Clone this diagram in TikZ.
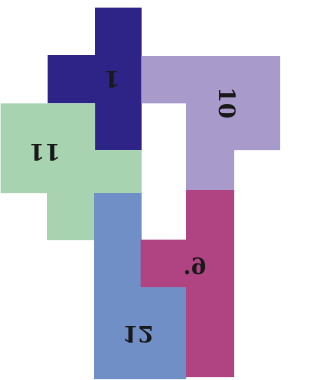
\documentclass[tikz,border=0pt]{standalone}
\usepackage{graphicx}
\usepackage{fontspec}
\newfontfamily\lblfont{DejaVu Serif}
\definecolor{cdark}{RGB}{46,36,135}
\definecolor{cpurple}{RGB}{168,155,203}
\definecolor{cgreen}{RGB}{168,211,176}
\definecolor{cblue}{RGB}{112,143,199}
\definecolor{cmagenta}{RGB}{176,68,130}
\tikzset{
  piece/.style={fill=#1, draw=none},
  lbl/.style={inner sep=0pt, text=black!90, font=\lblfont\fontsize{22.5}{27}\selectfont\bfseries}
}
\begin{document}
\begin{tikzpicture}[x=1pt, y=-1pt]
\useasboundingbox (0,0) rectangle (326,380);
% piece 1 (dark blue)
\fill[piece=cdark] (95,7.5) -- (141.7,7.5) -- (141.7,150) -- (95,150) -- (95,103.3) -- (47.5,103.3) -- (47.5,55) -- (95,55) -- cycle;
% piece 10 (purple)
\fill[piece=cpurple] (141.7,56) -- (280,56) -- (280,150) -- (234,150) -- (234,193) -- (186,193) -- (186,103.3) -- (141.7,103.3) -- cycle;
% piece 11 (green)
\fill[piece=cgreen] (0.5,103.3) -- (95,103.3) -- (95,150) -- (141.7,150) -- (141.7,193) -- (94,193) -- (94,240) -- (47,240) -- (47,193) -- (0.5,193) -- cycle;
% piece 12 (blue)
\fill[piece=cblue] (94,193) -- (141.7,193) -- (141.7,287) -- (186,287) -- (186,379) -- (94,379) -- cycle;
% piece 9 (magenta)
\fill[piece=cmagenta] (186,190) -- (234,190) -- (234,377) -- (186,377) -- (186,287) -- (140.5,287) -- (140.5,239.5) -- (186,239.5) -- cycle;
% labels
\node[lbl] (l1) at (112,80) {\rotatebox{180}{1}};
\node[lbl] (l10) at (228,103) {\rotatebox{-90}{10}};
\node[lbl] (l11) at (45,153) {\rotatebox{180}{11}};
\node[lbl] (l9) at (195,266) {\scalebox{-1}[1]{6.}};
\node[lbl] (l12) at (138,335) {\scalebox{1}[-1]{12}};
\end{tikzpicture}
\end{document}
